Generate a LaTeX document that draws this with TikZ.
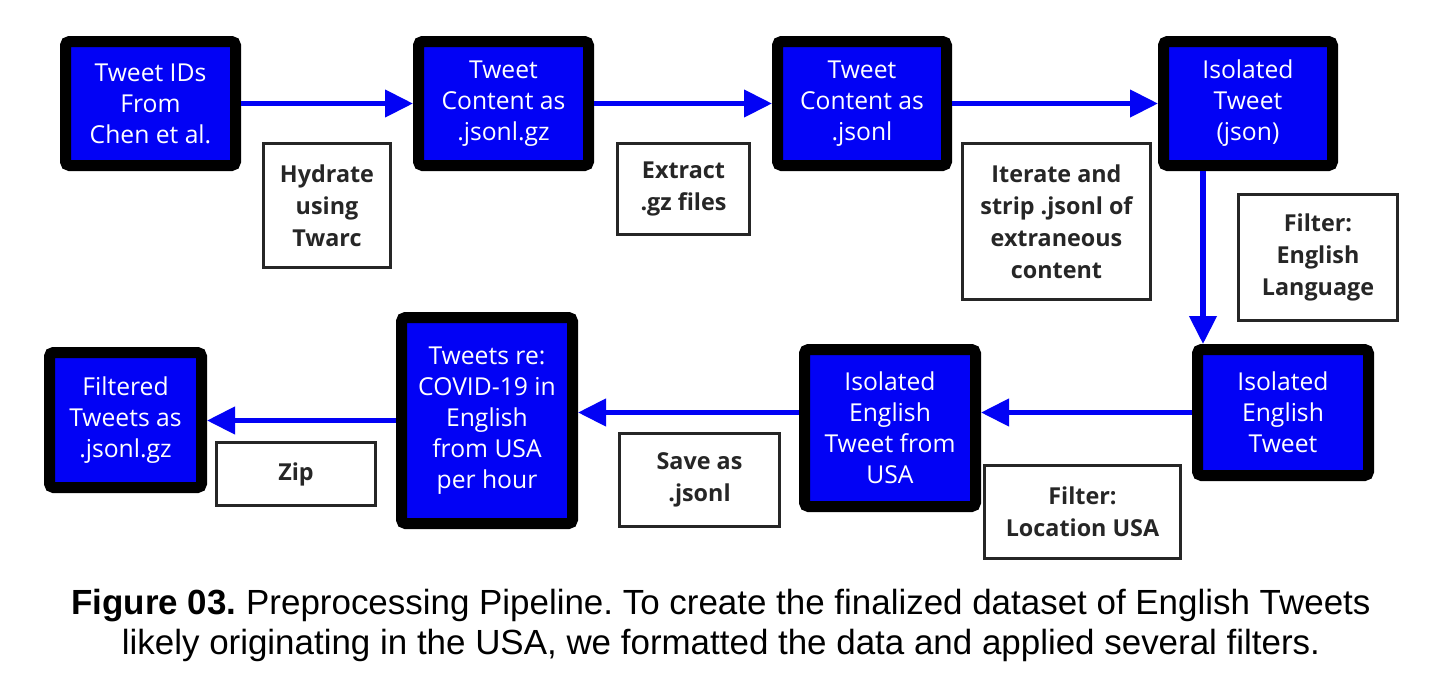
\documentclass[tikz,border=0pt]{standalone}
\usepackage{fontspec}
\setmainfont{Open Sans}
\newfontfamily\capfont{Liberation Sans}
\usetikzlibrary{arrows.meta,calc}
\definecolor{boxblue}{RGB}{2,2,245}
\tikzset{
  bluebox/.style={draw=black, fill=boxblue, line width=8.25pt, rounded corners=3pt,
    text=white, align=center, inner sep=1pt,
    font=\fontsize{18.5}{23.25}\selectfont},
  labelbox/.style={draw=black!85, fill=white, line width=2.25pt, align=center, inner sep=1pt,
    font=\fontsize{17.5}{24}\selectfont\bfseries, text=black!85},
  flow/.style={draw=boxblue, line width=4pt, -{Triangle[length=21pt,width=20pt]}},
}
\begin{document}
\frenchspacing
\begin{tikzpicture}[x=0.75pt,y=-0.75pt]
\useasboundingbox (0,0) rectangle (1436,683);
% data boxes
\node[bluebox, minimum width=127.5pt, minimum height=93pt] (b1) at (150.5,103.5) {Tweet IDs\\From\\Chen et al.};
\node[bluebox, minimum width=127.5pt, minimum height=93pt] (b2) at (503.5,103.5) {Tweet\\Content as\\.jsonl.gz};
\node[bluebox, minimum width=126.75pt, minimum height=93pt] (b3) at (862,103.5) {Tweet\\Content as\\.jsonl};
\node[bluebox, minimum width=126.75pt, minimum height=93pt] (b4) at (1248,103.5) {Isolated\\Tweet\\(json)};
\node[bluebox, minimum width=128.25pt, minimum height=94.5pt] (b5) at (1283,412.5) {Isolated\\English\\Tweet};
\node[bluebox, minimum width=128.25pt, minimum height=117.75pt] (b6) at (890,428) {Isolated\\English\\Tweet from\\USA};
\node[bluebox, minimum width=128.25pt, minimum height=154.5pt] (b7) at (487,420.5) {Tweets re:\\COVID-19 in\\English\\from USA\\per hour};
\node[bluebox, minimum width=114pt, minimum height=101.25pt] (b8) at (125.5,420) {Filtered\\Tweets as\\.jsonl.gz};
% step labels
\node[labelbox, minimum width=95.25pt, minimum height=93pt] (l1) at (327,205.5) {Hydrate\\using\\Twarc};
\node[labelbox, minimum width=99pt, minimum height=68.25pt] (l2) at (683.5,189) {Extract\\.gz files};
\node[labelbox, minimum width=141pt, minimum height=117pt] (l3) at (1056.5,221.5) {Iterate and\\strip .jsonl of\\extraneous\\content};
\node[labelbox, minimum width=119.25pt, minimum height=94.5pt] (l4) at (1318,257.5) {Filter:\\English\\Language};
\node[labelbox, minimum width=147pt, minimum height=69.75pt] (l5) at (1082.5,512) {Filter:\\Location USA};
\node[labelbox, minimum width=120pt, minimum height=69.75pt] (l6) at (699.5,480) {Save as\\.jsonl};
\node[labelbox, minimum width=119.25pt, minimum height=47.25pt] (l7) at (296,474) {Zip};
% connectors
\draw[flow] (b1.east) -- (b2.west);
\draw[flow] (b2.east) -- (b3.west);
\draw[flow] (b3.east) -- (b4.west);
\coordinate (v1) at ($(b4.south west)!0.25!(b4.south east)$);
\draw[flow] (v1) -- (v1 |- b5.north);
\draw[flow] (b5.west) -- (b5.west -| b6.east);
\draw[flow] (b6.west |- b5.west) -- (b7.east |- b5.west);
\draw[flow] (b7.west) -- (b7.west -| b8.east);
% caption
\node[align=center, font=\capfont\fontsize{26.2}{30}\selectfont] (cap) at (721,625)
  {\textbf{Figure 03.} Preprocessing Pipeline. To create the finalized dataset of English Tweets\\likely originating in the USA, we formatted the data and applied several filters.};
\end{tikzpicture}
\end{document}
